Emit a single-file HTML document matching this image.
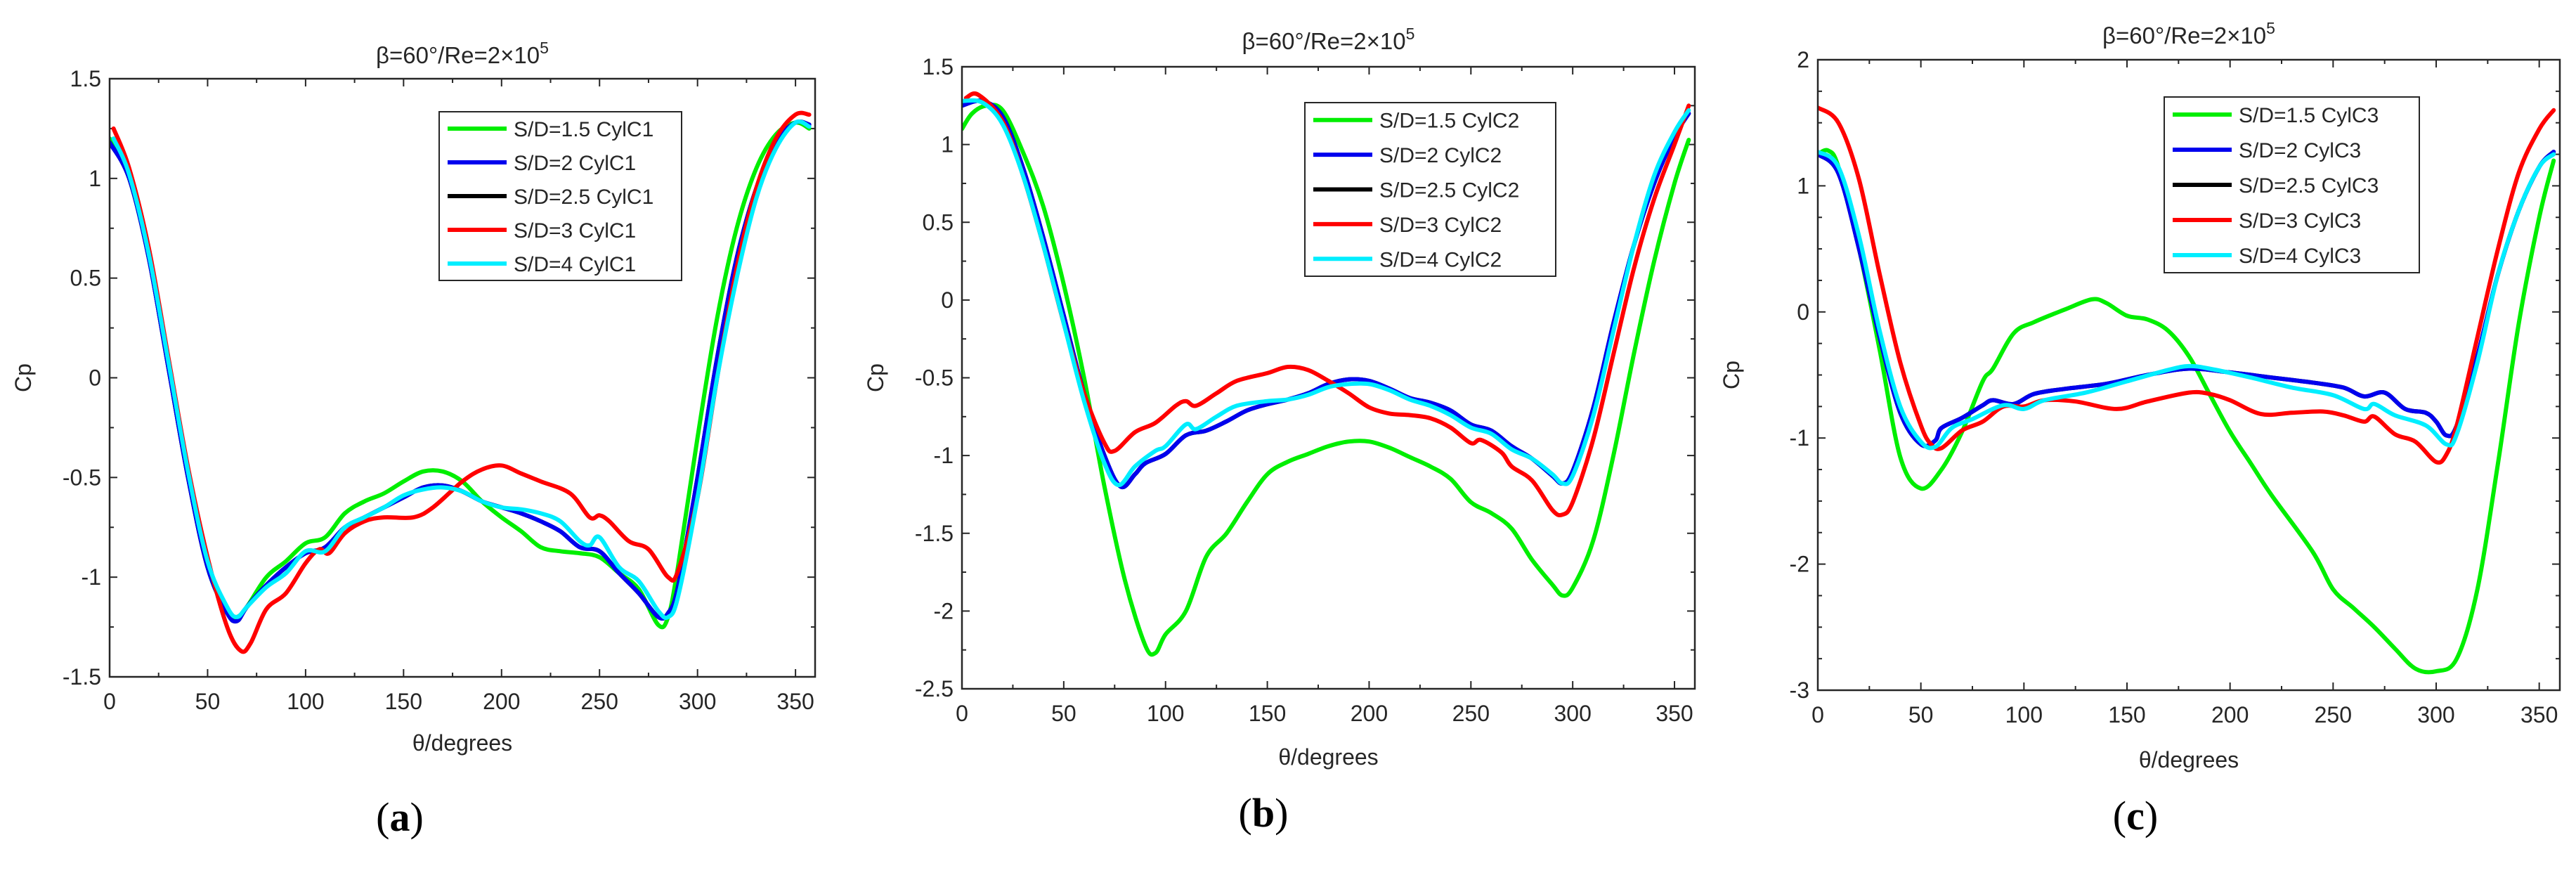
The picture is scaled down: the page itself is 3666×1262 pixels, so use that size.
<!DOCTYPE html>
<html><head><meta charset="utf-8"><style>
html,body{margin:0;padding:0;background:#fff;}
svg{display:block;}
text{font-family:"Liberation Sans",sans-serif;fill:#262626;}
</style></head><body>
<svg id="fig" width="3666" height="1262" viewBox="0 0 3666 1262" xmlns="http://www.w3.org/2000/svg"></svg>
<script>
// ---- Panel (a) data: [theta, Cp]
const aGreen=[[0,1.2],[10,1.0],[20,0.6],[30,0.05],[40,-0.5],[50,-0.95],[60,-1.18],[65,-1.2],[70,-1.15],[80,-1.0],[90,-0.92],[100,-0.83],[110,-0.8],[120,-0.68],[130,-0.62],[140,-0.58],[150,-0.52],[160,-0.47],[170,-0.47],[180,-0.52],[190,-0.62],[200,-0.7],[210,-0.77],[220,-0.85],[230,-0.87],[240,-0.88],[250,-0.9],[260,-0.98],[270,-1.06],[280,-1.24],[285,-1.2],[290,-0.95],[300,-0.3],[310,0.3],[320,0.75],[330,1.05],[340,1.22],[350,1.28],[357,1.25]];
const aBlue=[[0,1.18],[10,1.0],[20,0.6],[30,0.05],[40,-0.5],[50,-0.95],[60,-1.18],[65,-1.22],[70,-1.15],[80,-1.04],[90,-0.95],[100,-0.88],[110,-0.85],[120,-0.75],[130,-0.7],[140,-0.65],[150,-0.6],[160,-0.55],[170,-0.54],[180,-0.57],[190,-0.62],[200,-0.65],[210,-0.68],[220,-0.72],[230,-0.77],[240,-0.85],[250,-0.87],[260,-0.98],[270,-1.08],[280,-1.2],[285,-1.18],[290,-1.05],[300,-0.5],[310,0.1],[320,0.6],[330,0.95],[340,1.18],[350,1.28],[357,1.27]];
const aBlack=aBlue;
const aRed=[[2,1.25],[10,1.05],[20,0.65],[30,0.1],[40,-0.45],[50,-0.9],[60,-1.25],[67,-1.37],[72,-1.33],[80,-1.16],[90,-1.08],[100,-0.93],[107,-0.86],[112,-0.88],[120,-0.78],[130,-0.72],[140,-0.7],[155,-0.7],[165,-0.65],[180,-0.52],[190,-0.46],[200,-0.44],[210,-0.48],[220,-0.52],[235,-0.58],[245,-0.7],[250,-0.69],[255,-0.72],[265,-0.82],[275,-0.86],[285,-1.0],[290,-0.97],[300,-0.6],[310,0.0],[320,0.55],[330,0.95],[340,1.2],[350,1.32],[357,1.32]];
const aCyan=[[2,1.2],[10,1.02],[20,0.62],[30,0.08],[40,-0.47],[50,-0.92],[60,-1.15],[65,-1.2],[70,-1.15],[80,-1.05],[90,-0.98],[100,-0.87],[110,-0.87],[120,-0.75],[130,-0.7],[140,-0.65],[150,-0.59],[160,-0.56],[170,-0.55],[180,-0.57],[190,-0.62],[200,-0.65],[210,-0.66],[220,-0.68],[230,-0.72],[240,-0.82],[245,-0.84],[250,-0.8],[260,-0.95],[270,-1.02],[280,-1.17],[285,-1.2],[290,-1.1],[300,-0.6],[310,0.0],[320,0.5],[330,0.9],[340,1.15],[350,1.28],[357,1.26]];
// ---- Panel (b)
const bGreen=[[0,1.1],[5,1.2],[12,1.25],[20,1.22],[30,0.95],[40,0.6],[50,0.1],[60,-0.5],[70,-1.2],[80,-1.8],[90,-2.22],[95,-2.27],[100,-2.15],[110,-2.0],[120,-1.65],[130,-1.5],[140,-1.3],[150,-1.12],[160,-1.04],[170,-0.99],[180,-0.94],[190,-0.91],[200,-0.91],[210,-0.95],[220,-1.01],[230,-1.07],[240,-1.15],[250,-1.3],[260,-1.37],[270,-1.47],[280,-1.67],[290,-1.83],[295,-1.9],[300,-1.85],[310,-1.55],[320,-1.0],[330,-0.35],[340,0.25],[350,0.75],[357,1.03]];
const bBlue=[[0,1.25],[10,1.28],[20,1.18],[30,0.85],[40,0.4],[50,-0.1],[60,-0.6],[70,-1.0],[78,-1.2],[85,-1.12],[90,-1.05],[100,-0.99],[110,-0.87],[120,-0.84],[130,-0.78],[140,-0.71],[150,-0.67],[160,-0.64],[170,-0.6],[180,-0.54],[190,-0.51],[200,-0.52],[210,-0.57],[220,-0.63],[230,-0.66],[240,-0.71],[250,-0.8],[260,-0.84],[270,-0.94],[280,-1.02],[290,-1.13],[295,-1.18],[300,-1.1],[310,-0.7],[320,-0.15],[330,0.35],[340,0.75],[350,1.05],[357,1.2]];
const bBlack=bBlue;
const bRed=[[2,1.3],[8,1.32],[20,1.15],[30,0.8],[40,0.35],[50,-0.15],[60,-0.6],[70,-0.92],[75,-0.97],[85,-0.85],[95,-0.79],[105,-0.68],[110,-0.65],[115,-0.68],[125,-0.6],[135,-0.52],[150,-0.47],[160,-0.43],[170,-0.45],[180,-0.52],[190,-0.6],[200,-0.69],[210,-0.73],[220,-0.74],[230,-0.76],[240,-0.82],[250,-0.92],[255,-0.9],[265,-0.98],[270,-1.07],[280,-1.16],[290,-1.35],[295,-1.38],[300,-1.3],[310,-0.9],[320,-0.35],[330,0.2],[340,0.65],[350,1.0],[357,1.25]];
const bCyan=[[0,1.28],[10,1.27],[20,1.13],[30,0.8],[40,0.35],[50,-0.15],[60,-0.65],[70,-1.05],[77,-1.19],[85,-1.07],[95,-0.97],[100,-0.94],[110,-0.8],[115,-0.83],[125,-0.75],[135,-0.68],[150,-0.65],[160,-0.64],[170,-0.61],[180,-0.56],[190,-0.54],[200,-0.54],[210,-0.58],[220,-0.64],[230,-0.68],[240,-0.74],[250,-0.82],[260,-0.86],[270,-0.96],[280,-1.02],[290,-1.12],[295,-1.18],[300,-1.13],[310,-0.75],[320,-0.2],[330,0.35],[340,0.8],[350,1.08],[357,1.22]];
// ---- Panel (c)
const cGreen=[[0,1.25],[5,1.28],[10,1.15],[20,0.5],[30,-0.3],[40,-1.15],[50,-1.4],[60,-1.25],[70,-0.95],[80,-0.55],[85,-0.45],[95,-0.17],[105,-0.08],[120,0.02],[133,0.1],[140,0.07],[150,-0.03],[160,-0.06],[170,-0.15],[180,-0.35],[190,-0.65],[200,-0.95],[210,-1.2],[220,-1.45],[240,-1.9],[250,-2.2],[260,-2.35],[270,-2.5],[280,-2.67],[290,-2.83],[300,-2.85],[310,-2.75],[320,-2.2],[330,-1.2],[340,-0.1],[350,0.75],[357,1.2]];
const cBlue=[[0,1.25],[10,1.1],[20,0.5],[30,-0.2],[40,-0.8],[50,-1.05],[57,-1.02],[60,-0.92],[70,-0.84],[80,-0.74],[85,-0.7],[95,-0.73],[105,-0.65],[120,-0.61],[140,-0.57],[160,-0.5],[180,-0.45],[200,-0.48],[220,-0.52],[240,-0.56],[255,-0.6],[265,-0.67],[275,-0.64],[285,-0.77],[295,-0.8],[300,-0.87],[305,-0.98],[310,-0.9],[320,-0.35],[330,0.3],[340,0.8],[350,1.15],[357,1.27]];
const cBlack=cBlue;
const cRed=[[0,1.62],[10,1.5],[20,1.05],[30,0.3],[40,-0.4],[50,-0.9],[55,-1.05],[60,-1.08],[70,-0.94],[80,-0.87],[90,-0.75],[100,-0.75],[110,-0.7],[125,-0.71],[145,-0.77],[160,-0.71],[180,-0.64],[190,-0.65],[200,-0.7],[215,-0.81],[230,-0.8],[245,-0.79],[255,-0.82],[265,-0.87],[270,-0.83],[280,-0.97],[290,-1.03],[300,-1.19],[305,-1.13],[310,-0.9],[320,-0.2],[330,0.5],[340,1.1],[350,1.45],[357,1.6]];
const cCyan=[[0,1.27],[10,1.15],[20,0.6],[30,-0.15],[40,-0.75],[50,-1.03],[57,-1.07],[65,-0.92],[75,-0.85],[90,-0.74],[100,-0.77],[110,-0.7],[130,-0.64],[150,-0.55],[170,-0.46],[180,-0.43],[190,-0.45],[210,-0.52],[230,-0.6],[250,-0.66],[265,-0.77],[270,-0.73],[280,-0.82],[295,-0.9],[305,-1.05],[310,-0.97],[320,-0.4],[330,0.3],[340,0.8],[350,1.15],[357,1.25]];

const xTicks=[0,50,100,150,200,250,300,350];
const aYTicks=[1.5,1,0.5,0,-0.5,-1,-1.5];
const bYTicks=[1.5,1,0.5,0,-0.5,-1,-1.5,-2,-2.5];
const cYTicks=[2,1,0,-1,-2,-3];
const labelsA=["S/D=1.5 CylC1","S/D=2 CylC1","S/D=2.5 CylC1","S/D=3 CylC1","S/D=4 CylC1"];
const labelsB=["S/D=1.5 CylC2","S/D=2 CylC2","S/D=2.5 CylC2","S/D=3 CylC2","S/D=4 CylC2"];
const labelsC=["S/D=1.5 CylC3","S/D=2 CylC3","S/D=2.5 CylC3","S/D=3 CylC3","S/D=4 CylC3"];
const colors=["#00ee00","#0000ee","#000000","#ff0000","#00eeff"];

const NS="http://www.w3.org/2000/svg";
const svg=document.getElementById('fig');
function mk(tag,attrs,parent){const e=document.createElementNS(NS,tag);for(const k in attrs)e.setAttribute(k,attrs[k]);(parent||svg).appendChild(e);return e;}
function smooth(pts){let d="M"+pts[0][0].toFixed(1)+","+pts[0][1].toFixed(1);
 for(let i=0;i<pts.length-1;i++){const p0=pts[Math.max(0,i-1)],p1=pts[i],p2=pts[i+1],p3=pts[Math.min(pts.length-1,i+2)];
 const c1x=p1[0]+(p2[0]-p0[0])/6,c1y=p1[1]+(p2[1]-p0[1])/6,c2x=p2[0]-(p3[0]-p1[0])/6,c2y=p2[1]-(p3[1]-p1[1])/6;
 d+=" C"+c1x.toFixed(1)+","+c1y.toFixed(1)+" "+c2x.toFixed(1)+","+c2y.toFixed(1)+" "+p2[0].toFixed(1)+","+p2[1].toFixed(1);}
 return d;}

function panel(cfg){
 const g=mk('g',{});
 
 
 const {L,R,T,B,ymin,ymax}=cfg;
 const sx=v=>L+(v/360)*(R-L), sy=v=>T+(ymax-v)/(ymax-ymin)*(B-T);
 mk('rect',{x:L,y:T,width:R-L,height:B-T,fill:'#fff'},g);
 // ticks
 const tg=mk('g',{stroke:'#262626','stroke-width':2},g);
 
 
 for(let v=0;v<=360;v+=25){const x=sx(v);mk('line',{x1:x,y1:B,x2:x,y2:B-(v%50?6:11)},tg);mk('line',{x1:x,y1:T,x2:x,y2:T+(v%50?6:11)},tg);}
 for(let v=ymin;v<=ymax+1e-9;v+=cfg.minor){const y=sy(v);const maj=Math.abs(v/cfg.major-Math.round(v/cfg.major))<1e-6;mk('line',{x1:L,y1:y,x2:L+(maj?11:6),y2:y},tg);mk('line',{x1:R,y1:y,x2:R-(maj?11:6),y2:y},tg);}
 // tick labels
 xTicks.forEach(v=>{const t=mk('text',{x:sx(v),y:B+46,'font-size':32,'text-anchor':'middle'},g);t.textContent=v;
  
  });
 cfg.yt.forEach(v=>{const t=mk('text',{x:L-12,y:sy(v)+11,'font-size':32,'text-anchor':'end'},g);t.textContent=String(v);
  
  });
 // series
 const clip=mk('clipPath',{id:'clip'+cfg.id},g);mk('rect',{x:L,y:T,width:R-L,height:B-T},clip);
 cfg.series.forEach((s,i)=>{const p=mk('path',{d:smooth(s.map(q=>[sx(q[0]),sy(q[1])])),fill:'none',stroke:colors[i],'stroke-width':6,'stroke-linejoin':'round','stroke-linecap':'round','clip-path':'url(#clip'+cfg.id+')'},g);
  
  });
 // reorder: draw in order green, black, blue, red, cyan already; black under blue handled by order below
 const fr=mk('rect',{x:L,y:T,width:R-L,height:B-T,fill:'none',stroke:'#262626','stroke-width':2.5},g);
 
 
 // legend
 const lg=mk('g',{},g);
 
 
 const [lx1,ly1,lx2,ly2]=cfg.leg;
 mk('rect',{x:lx1,y:ly1,width:lx2-lx1,height:ly2-ly1,fill:'#fff',stroke:'#262626','stroke-width':2},lg);
 const rh=(ly2-ly1)/5;
 cfg.labels.forEach((lab,i)=>{const y=ly1+rh*(i+0.5);
  const e=mk('g',{},lg);
  
  
  mk('line',{x1:lx1+12,y1:y,x2:lx1+96,y2:y,stroke:colors[i],'stroke-width':6},e);
  const t=mk('text',{x:lx1+106,y:y+11,'font-size':30},e);t.textContent=lab;});
 // titles
 const tt=mk('text',{x:(L+R)/2,y:cfg.titleY,'font-size':33,'text-anchor':'middle'},g);
 tt.innerHTML='β=60°/Re=2×10<tspan dy="-14" font-size="23">5</tspan>';
 
 
 const xl=mk('text',{x:(L+R)/2,y:cfg.xlY,'font-size':32,'text-anchor':'middle'},g);xl.textContent='θ/degrees';
 
 
 const yx=cfg.L-112, yy=(T+B)/2;
 const yl=mk('text',{x:yx,y:yy,'font-size':32,'text-anchor':'middle',transform:'rotate(-90 '+yx+' '+yy+')'},g);yl.textContent='Cp';
 
 
 const pl=mk('text',{x:cfg.capX,y:cfg.capY,'font-size':58,'text-anchor':'middle',style:'font-family:"Liberation Serif",serif;fill:#000'},g);
 pl.innerHTML='(<tspan font-weight="bold">'+cfg.id+'</tspan>)';
 
 
}
function order(a){return [a[0],a[2],a[1],a[3],a[4]];}
function ordL(a){return [a[0],a[2],a[1],a[3],a[4]];}
// draw with black beneath blue: reorder colors temporarily
const baseColors=colors.slice();
function run(cfg){colors.splice(0,5,...order(baseColors));cfg.series=order(cfg.series);cfg.labels=ordL(cfg.labels);panel(cfg);}
// note: legend order must stay original, so draw legend separately after
panel0=null;
function drawPanel(cfg){
 const series=cfg.series, labels=cfg.labels;
 colors.splice(0,5,...baseColors);
 panel(Object.assign({},cfg,{series:[series[0],series[2],series[1],series[3],series[4]],labels:labels,swap:true}));
}
// simpler approach: swap color index mapping for series draw
const origPanel=panel;
[
 {id:'a',L:156,R:1160,T:112,B:963,ymin:-1.5,ymax:1.5,major:0.5,minor:0.25,yt:aYTicks,series:[aGreen,aBlue,aBlack,aRed,aCyan],labels:labelsA,leg:[625,159,970,399],titleY:90,xlY:1068,capX:569,capY:1182},
 {id:'b',L:1369,R:2412,T:95,B:980,ymin:-2.5,ymax:1.5,major:0.5,minor:0.25,yt:bYTicks,series:[bGreen,bBlue,bBlack,bRed,bCyan],labels:labelsB,leg:[1857,146,2214,393],titleY:70,xlY:1088,capX:1798,capY:1176},
 {id:'c',L:2587,R:3643,T:85,B:982,ymin:-3,ymax:2,major:1,minor:0.25,yt:cYTicks,series:[cGreen,cBlue,cBlack,cRed,cCyan],labels:labelsC,leg:[3080,138,3443,388],titleY:62,xlY:1092,capX:3039,capY:1180}
].forEach(cfg=>panel(cfg));
// bring blue series above black series
document.querySelectorAll('path[stroke="#0000ee"]').forEach(p=>{const blk=p.parentNode.querySelector('path[stroke="#000000"]');if(blk)p.parentNode.insertBefore(blk,p);});
</script>
</body></html>
